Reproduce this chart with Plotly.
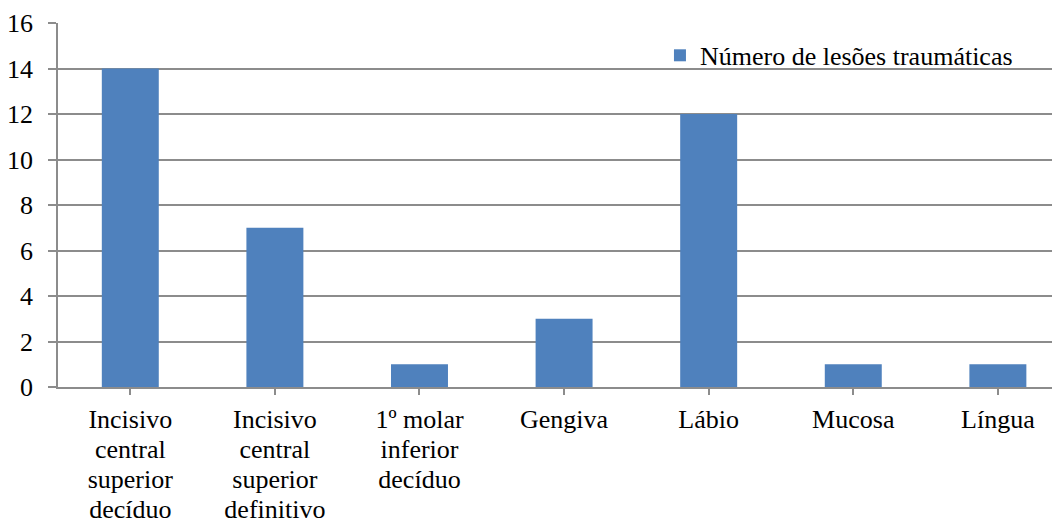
import plotly.graph_objects as go

category_lines = [
    ["Incisivo", "central", "superior", "decíduo"],
    ["Incisivo", "central", "superior", "definitivo"],
    ["1º molar", "inferior", "decíduo"],
    ["Gengiva"],
    ["Lábio"],
    ["Mucosa"],
    ["Língua"],
]
values = [14, 7, 1, 3, 12, 1, 1]
series_name = "Número de lesões traumáticas"
y_ticks = [0, 2, 4, 6, 8, 10, 12, 14, 16]

FONT = "Liberation Serif"
GRID = "#8c8c8c"
FS = 26      # glyph size
LINE_FS = 23  # base size that sets the line spacing of wrapped labels

ticktext = [
    "<br>".join(f'<span style="font-size:{FS}px">{ln}</span>' for ln in lines)
    for lines in category_lines
]

fig = go.Figure(
    go.Bar(
        x=list(range(len(category_lines))),
        y=values,
        name=series_name,
        marker=dict(color="#4F81BD", line=dict(width=0)),
        showlegend=True,
    )
)

fig.update_layout(
    template="none",
    width=1060,
    height=520,
    margin=dict(l=50, r=0, t=15, b=141, autoexpand=False),
    paper_bgcolor="white",
    plot_bgcolor="white",
    font=dict(family=FONT, size=FS, color="black"),
    bargap=0.606,
    showlegend=True,
    legend=dict(
        x=0.596, y=0.911, xanchor="left", yanchor="middle",
        bgcolor="rgba(0,0,0,0)", font=dict(family=FONT, size=FS, color="black"),
        itemwidth=30,
    ),
)

fig.update_xaxes(
    automargin=False,
    tickmode="array",
    tickvals=list(range(len(category_lines))),
    ticktext=ticktext,
    range=[-0.5, 6.485],
    showline=True, linecolor=GRID, linewidth=1.5,
    ticks="outside", tickson="boundaries", ticklen=6, tickcolor=GRID, tickwidth=1.5,
    showgrid=False, zeroline=False,
    tickangle=0,
    tickfont=dict(family=FONT, size=LINE_FS, color="black"),
    ticklabelstandoff=6,
)
fig.update_yaxes(
    automargin=False,
    range=[0, 16],
    tickvals=y_ticks,
    showline=True, linecolor=GRID, linewidth=1.5,
    ticks="outside", ticklen=8, tickcolor=GRID, tickwidth=1.5,
    showgrid=True, gridcolor=GRID, gridwidth=1.5,
    zeroline=False,
    tickfont=dict(family=FONT, size=FS, color="black"),
    ticklabelstandoff=10,
)

fig.write_html("out.html")
